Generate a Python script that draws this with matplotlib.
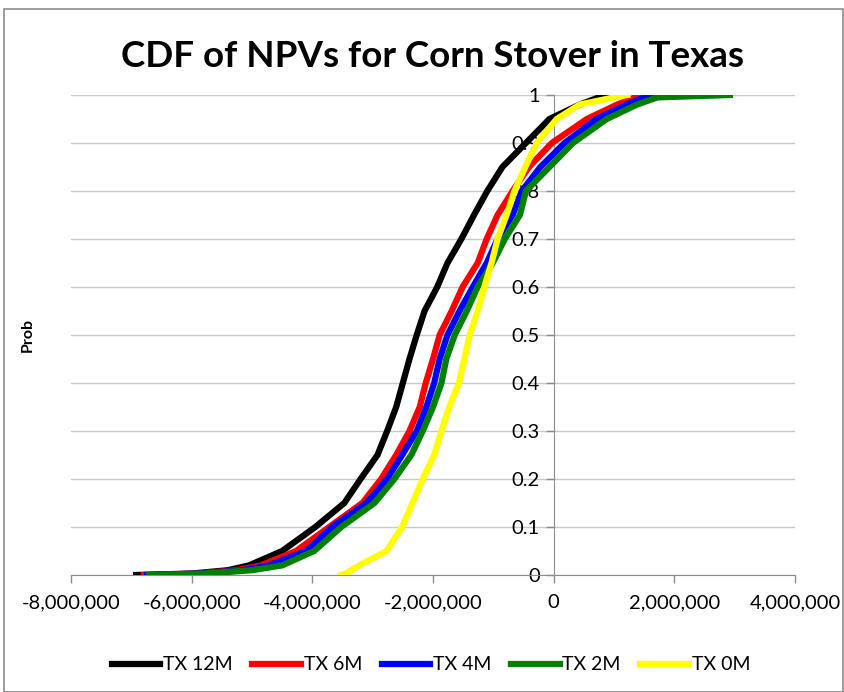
import matplotlib
matplotlib.use("Agg")
import matplotlib.pyplot as plt
from matplotlib.ticker import FuncFormatter
from matplotlib.patches import Rectangle

plt.rcParams['font.family'] = ['Lato', 'DejaVu Sans']
plt.rcParams['axes.unicode_minus'] = False

# Cumulative probability levels
probs = [0, 0.003, 0.01, 0.02, 0.05, 0.1, 0.15, 0.2, 0.25, 0.3, 0.35, 0.4, 0.45,
         0.5, 0.55, 0.6, 0.65, 0.7, 0.75, 0.8, 0.85, 0.9, 0.95, 0.98, 0.995, 1.0]

# NPV quantiles (millions of dollars)
tx_12m = [-6.92, -6.0, -5.4, -5.05, -4.5, -3.95, -3.47, -3.20, -2.92, -2.76, -2.61, -2.5,
          -2.39, -2.27, -2.14, -1.93, -1.76, -1.53, -1.32, -1.10, -0.85, -0.46, -0.07,
          0.43, 0.75, 1.0]
tx_6m = [-6.79, -5.9, -5.25, -4.85, -4.27, -3.72, -3.17, -2.86, -2.61, -2.39, -2.22, -2.12,
         -2.0, -1.89, -1.69, -1.51, -1.26, -1.11, -0.93, -0.68, -0.41, -0.03, 0.55,
         1.05, 1.35, 1.6]
tx_4m = [-6.74, -5.85, -5.15, -4.72, -4.10, -3.67, -3.10, -2.76, -2.51, -2.27, -2.11, -1.98,
         -1.89, -1.76, -1.56, -1.34, -1.11, -0.93, -0.68, -0.53, -0.22, 0.18, 0.71,
         1.21, 1.5, 1.7]
tx_2m = [-6.70, -5.8, -5.0, -4.5, -3.97, -3.52, -2.97, -2.64, -2.36, -2.17, -2.0, -1.86,
         -1.78, -1.64, -1.44, -1.26, -1.01, -0.81, -0.56, -0.46, -0.07, 0.32, 0.88,
         1.38, 1.72, 2.92]
tx_0m = [-3.52, -3.45, -3.35, -3.22, -2.77, -2.51, -2.34, -2.17, -1.98, -1.86, -1.73, -1.57,
         -1.48, -1.39, -1.26, -1.15, -1.03, -0.93, -0.78, -0.65, -0.47, -0.28, 0.05,
         0.43, 1.0, 1.22]

series_names = ['TX 12M', 'TX 6M', 'TX 4M', 'TX 2M', 'TX 0M']
series_vals = [tx_12m, tx_6m, tx_4m, tx_2m, tx_0m]
series_colors = ['#000000', '#ff0000', '#0000ff', '#008000', '#ffff00']

x_ticks = [-8000000, -6000000, -4000000, -2000000, 0, 2000000, 4000000]
y_ticks = [0, 0.1, 0.2, 0.3, 0.4, 0.5, 0.6, 0.7, 0.8, 0.9, 1]

W, H = 844, 692
fig = plt.figure(figsize=(W / 100, H / 100), dpi=100)
ax = fig.add_axes([71 / W, 1 - 575 / H, (795 - 71) / W, (575 - 95) / H])

for name, vals, col in zip(series_names, series_vals, series_colors):
    ax.plot([v * 1e6 for v in vals], probs, color=col, lw=4.5, label=name,
            solid_joinstyle='miter', zorder=3)

ax.set_xlim(x_ticks[0], x_ticks[-1])
ax.set_ylim(0, 1)
ax.set_xticks(x_ticks)
ax.set_yticks(y_ticks)
ax.xaxis.set_major_formatter(FuncFormatter(lambda v, p: f"{int(round(v)):,}"))
ax.yaxis.set_major_formatter(FuncFormatter(lambda v, p: f"{v:g}"))

ax.grid(axis='y', color='#c8c8c8', lw=1.0)
ax.set_axisbelow(True)
for s in ['top', 'right']:
    ax.spines[s].set_visible(False)
ax.spines['left'].set_position(('data', 0))
ax.spines['left'].set_color('#8c8c8c')
ax.spines['bottom'].set_color('#8c8c8c')
ax.spines['left'].set_zorder(1)
ax.tick_params(axis='both', colors='#8c8c8c', labelcolor='black', labelsize=14.5,
               length=6, width=1, direction='out')
ax.tick_params(axis='x', pad=8)
ax.tick_params(axis='y', pad=4)

ax.set_title('CDF of NPVs for Corn Stover in Texas', fontsize=26.5, fontweight='bold', pad=20)
fig.text(28 / W, 1 - 335 / H, 'Prob', rotation=90, fontsize=11.5, fontweight='bold',
         ha='center', va='center')

leg = fig.legend(loc='center', bbox_to_anchor=(431 / W, 1 - 665 / H), ncol=5,
                 frameon=False, fontsize=14, handlelength=2.5, handletextpad=0.15,
                 columnspacing=1.0)
for h in leg.get_lines():
    h.set_linewidth(4.5)

fig.patches.append(Rectangle((4 / W, 0), 1 - 5 / W, 1 - 9 / H, transform=fig.transFigure,
                             fill=False, edgecolor='#8c8c8c', lw=1.2))

fig.savefig('out.png', dpi=100)
